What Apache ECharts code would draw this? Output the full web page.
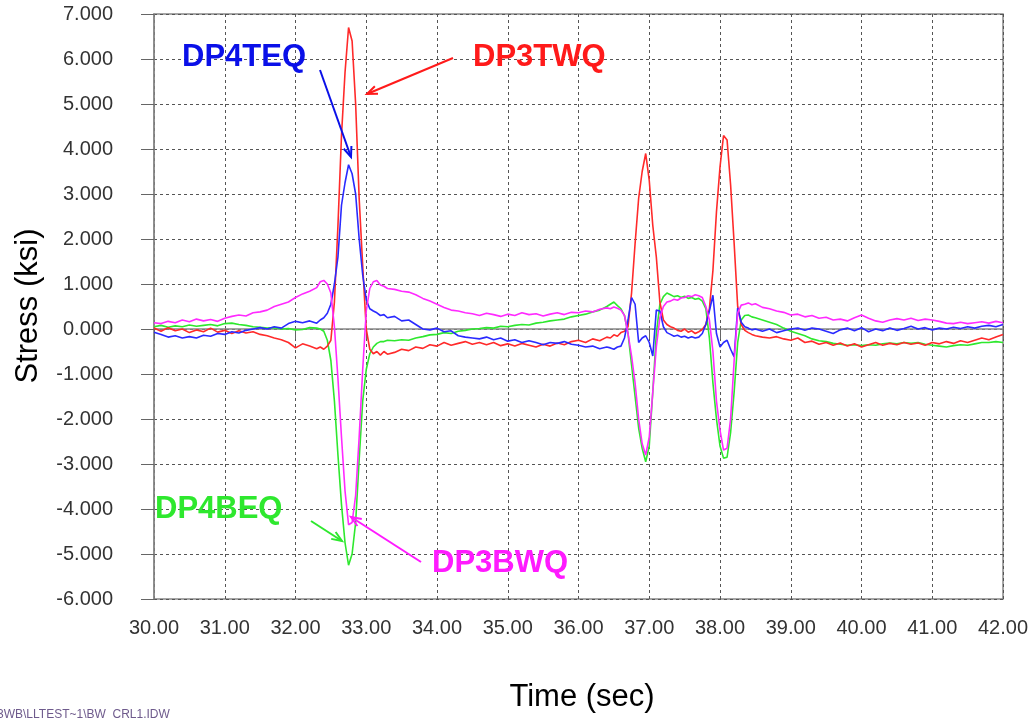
<!DOCTYPE html>
<html>
<head>
<meta charset="utf-8">
<script src="https://cdn.jsdelivr.net/npm/echarts@6.0.0/dist/echarts.min.js"></script>
<style>
html, body { margin: 0; padding: 0; background: #fff; }
#chart { width: 1034px; height: 719px; }
</style>
</head>
<body>
<div id="chart"></div>
<script>
// time stamps (sec) - finer step around the three load events
var times = [30.0,30.1,30.2,30.3,30.4,30.5,30.6,30.7,30.8,30.9,31.0,31.1,31.2,31.3,31.4,31.5,31.6,31.7,31.8,31.9,32.0,32.1,32.2,32.3,
	32.35,32.4,32.45,32.5,32.55,32.6,32.65,32.7,32.75,32.8,32.85,32.9,32.95,33.0,33.05,33.1,33.15,33.2,33.25,33.3,
	33.4,33.5,33.6,33.7,33.8,33.9,34.0,34.1,34.2,34.3,34.4,34.5,34.6,34.7,34.8,34.9,35.0,35.1,35.2,35.3,35.4,35.5,35.6,35.7,35.8,35.9,36.0,36.1,36.2,36.3,36.4,
	36.45,36.5,36.55,36.6,36.65,36.7,36.75,36.8,36.85,36.9,36.95,37.0,37.05,37.1,37.15,37.2,37.25,37.3,37.35,37.4,37.45,37.5,37.55,37.6,37.65,37.7,37.75,37.8,37.85,37.9,37.95,38.0,38.05,38.1,38.15,38.2,38.25,38.3,38.35,38.4,38.45,38.5,
	38.6,38.7,38.8,38.9,39.0,39.1,39.2,39.3,39.4,39.5,39.6,39.7,39.8,39.9,40.0,40.1,40.2,40.3,40.4,40.5,40.6,40.7,40.8,40.9,41.0,41.1,41.2,41.3,41.4,41.5,41.6,41.7,41.8,41.9,42.0];

// stress (ksi)
var dp3twq = [0.02,-0.05,0.03,-0.04,0.0,-0.08,-0.02,-0.06,0.02,-0.07,-0.03,-0.1,-0.04,-0.09,-0.06,-0.12,-0.15,-0.2,-0.24,-0.3,-0.42,-0.33,-0.38,-0.44,
	-0.4,-0.45,-0.38,-0.25,0.6,2.3,4.3,5.7,6.7,6.4,5.0,2.9,1.4,0.0,-0.45,-0.55,-0.5,-0.58,-0.5,-0.56,
	-0.52,-0.45,-0.48,-0.4,-0.43,-0.35,-0.38,-0.3,-0.36,-0.32,-0.28,-0.34,-0.3,-0.35,-0.3,-0.37,-0.33,-0.38,-0.32,-0.36,-0.4,-0.34,-0.38,-0.31,-0.35,-0.28,-0.25,-0.3,-0.22,-0.26,-0.18,
	-0.2,-0.13,-0.16,-0.08,-0.05,0.05,0.8,1.9,2.9,3.5,3.9,3.3,2.3,1.6,0.6,0.2,0.1,0.05,0.02,-0.03,-0.05,0.0,-0.07,-0.04,-0.1,-0.06,-0.01,0.1,0.45,1.3,2.6,3.6,4.3,4.2,3.2,1.9,0.5,0.1,-0.03,-0.08,-0.12,-0.15,
	-0.18,-0.2,-0.17,-0.22,-0.25,-0.2,-0.3,-0.27,-0.34,-0.3,-0.36,-0.31,-0.38,-0.33,-0.4,-0.35,-0.3,-0.36,-0.32,-0.35,-0.3,-0.34,-0.31,-0.36,-0.3,-0.33,-0.28,-0.32,-0.26,-0.3,-0.25,-0.2,-0.24,-0.18,-0.12];

var dp4teq = [-0.07,-0.12,-0.18,-0.15,-0.2,-0.17,-0.2,-0.14,-0.16,-0.1,-0.12,-0.06,-0.09,-0.03,0.0,0.03,0.0,0.05,0.02,0.12,0.17,0.14,0.18,0.13,
	0.2,0.25,0.35,0.55,1.0,1.6,2.75,3.25,3.65,3.45,3.0,2.0,1.2,0.65,0.45,0.4,0.36,0.3,0.32,0.25,
	0.28,0.18,0.2,0.1,0.0,-0.02,0.02,-0.06,-0.04,-0.15,-0.18,-0.2,-0.22,-0.18,-0.24,-0.2,-0.27,-0.24,-0.3,-0.26,-0.3,-0.35,-0.3,-0.32,-0.28,-0.34,-0.36,-0.4,-0.38,-0.44,-0.4,
	-0.42,-0.45,-0.4,-0.38,-0.2,0.2,0.7,0.55,-0.3,-0.2,-0.15,-0.3,-0.6,0.42,0.4,0.05,-0.08,-0.12,-0.16,-0.14,-0.18,-0.16,-0.2,-0.17,-0.2,-0.18,-0.1,0.1,0.4,0.75,-0.1,-0.4,-0.3,-0.25,-0.45,-0.62,0.47,0.15,0.05,0.02,-0.02,0.0,
	-0.05,0.0,-0.08,-0.04,0.0,0.02,-0.03,0.02,0.0,-0.05,-0.1,-0.02,0.02,-0.04,0.03,-0.06,0.0,-0.04,0.02,-0.03,0.01,0.06,0.0,0.03,-0.02,0.02,0.0,0.04,0.01,0.05,0.02,0.06,0.08,0.05,0.1];

var dp4beq = [0.05,0.08,0.04,0.07,0.05,0.09,0.06,0.08,0.1,0.07,0.12,0.13,0.1,0.08,0.05,0.04,0.02,0.03,0.0,0.01,-0.02,-0.01,0.03,0.02,
	0.0,-0.05,-0.25,-0.7,-1.6,-2.8,-3.9,-4.75,-5.25,-5.0,-4.3,-2.9,-1.6,-0.9,-0.55,-0.4,-0.32,-0.28,-0.28,-0.25,
	-0.26,-0.24,-0.25,-0.2,-0.17,-0.13,-0.12,-0.08,-0.1,-0.05,-0.03,0.0,0.01,0.03,0.02,0.06,0.05,0.08,0.1,0.09,0.13,0.15,0.18,0.2,0.22,0.27,0.3,0.33,0.38,0.42,0.5,
	0.55,0.6,0.52,0.45,0.3,-0.1,-0.8,-1.5,-2.2,-2.65,-2.95,-2.6,-1.4,-0.1,0.55,0.72,0.8,0.76,0.72,0.74,0.7,0.73,0.68,0.7,0.66,0.68,0.62,0.45,-0.2,-1.2,-2.0,-2.6,-2.87,-2.85,-2.3,-1.4,-0.3,0.2,0.3,0.31,0.27,0.25,
	0.2,0.15,0.1,0.02,-0.05,-0.1,-0.15,-0.22,-0.26,-0.28,-0.32,-0.34,-0.36,-0.35,-0.37,-0.35,-0.36,-0.33,-0.31,-0.33,-0.3,-0.32,-0.3,-0.34,-0.36,-0.38,-0.4,-0.37,-0.35,-0.36,-0.33,-0.3,-0.3,-0.28,-0.3];

var dp3bwq = [0.14,0.12,0.17,0.14,0.2,0.16,0.22,0.18,0.21,0.17,0.24,0.28,0.31,0.29,0.36,0.38,0.42,0.5,0.55,0.6,0.7,0.78,0.84,0.92,
	1.05,1.08,1.0,0.8,0.05,-1.1,-2.4,-3.6,-4.35,-4.3,-3.7,-2.4,-0.9,0.4,0.9,1.05,1.08,0.98,0.95,0.9,
	0.88,0.84,0.82,0.76,0.68,0.62,0.55,0.48,0.42,0.4,0.36,0.34,0.3,0.35,0.32,0.28,0.33,0.3,0.36,0.32,0.34,0.29,0.33,0.36,0.32,0.37,0.36,0.4,0.38,0.44,0.47,
	0.45,0.49,0.46,0.42,0.3,-0.1,-0.6,-1.2,-2.0,-2.55,-2.8,-2.4,-1.4,-0.4,0.25,0.5,0.6,0.62,0.66,0.64,0.69,0.7,0.74,0.72,0.76,0.74,0.7,0.5,0.2,-0.5,-1.6,-2.25,-2.69,-2.65,-2.0,-0.7,0.36,0.53,0.55,0.58,0.54,0.56,
	0.48,0.45,0.4,0.37,0.31,0.33,0.27,0.3,0.24,0.26,0.2,0.22,0.18,0.25,0.31,0.24,0.18,0.15,0.2,0.23,0.2,0.24,0.19,0.22,0.2,0.17,0.13,0.12,0.15,0.12,0.14,0.16,0.13,0.17,0.14];

var seriesNames = ['DP4BEQ', 'DP3TWQ', 'DP4TEQ', 'DP3BWQ'];
var seriesValues = [dp4beq, dp3twq, dp4teq, dp3bwq];
var seriesColors = ['#2ee82e', '#ff2a2a', '#2a2aff', '#ff2aff'];

var FONT = '"Liberation Sans", Arial, sans-serif';

function pairs(vals) {
	var out = [];
	for (var i = 0; i < times.length; i++) {
		out.push([times[i], vals[i]]);
	}
	return out;
}

// straight arrow with an open head
function arrow(x1, y1, x2, y2, color) {
	var a = Math.atan2(y2 - y1, x2 - x1);
	var L = 11, w = 0.38;
	var p1 = [x2 - L * Math.cos(a - w), y2 - L * Math.sin(a - w)];
	var p2 = [x2 - L * Math.cos(a + w), y2 - L * Math.sin(a + w)];
	return [
		{ type: 'line', z: 100, shape: { x1: x1, y1: y1, x2: x2, y2: y2 }, style: { stroke: color, lineWidth: 2 } },
		{ type: 'polyline', z: 100, shape: { points: [p1, [x2, y2], p2] }, style: { stroke: color, lineWidth: 2, fill: null } }
	];
}

function label(text, x, y, color) {
	return {
		type: 'text', z: 100, x: x, y: y,
		style: { text: text, fill: color, font: 'bold 31px ' + FONT, align: 'left', verticalAlign: 'middle' }
	};
}

var graphics = [
	{ type: 'text', x: 28, y: 306, rotation: Math.PI / 2,
		style: { text: 'Stress (ksi)', fill: '#000', font: '31px ' + FONT, align: 'center', verticalAlign: 'middle' } },
	{ type: 'text', x: 582, y: 697,
		style: { text: 'Time (sec)', fill: '#000', font: '31px ' + FONT, align: 'center', verticalAlign: 'middle' } },
	{ type: 'text', x: -3, y: 715,
		style: { text: '3WB\\LLTEST~1\\BW_CRL1.IDW', fill: '#6e5a8c', font: '12px ' + FONT, align: 'left', verticalAlign: 'middle' } },
	label('DP4TEQ', 182, 57, '#0a10e8'),
	label('DP3TWQ', 473, 57, '#ff1a1a'),
	label('DP4BEQ', 155, 509, '#2ee82e'),
	label('DP3BWQ', 432, 563, '#ff1aff')
].concat(
	arrow(320, 70, 351, 157, '#0a10e8'),
	arrow(453, 58, 367, 94, '#ff1a1a'),
	arrow(311, 521, 342, 541, '#2ee82e'),
	arrow(421, 562, 351, 517, '#ff1aff')
);

var series = [];
for (var s = 0; s < seriesNames.length; s++) {
	series.push({
		name: seriesNames[s],
		type: 'line',
		showSymbol: false,
		data: pairs(seriesValues[s]),
		lineStyle: { color: seriesColors[s], width: 1.6 },
		itemStyle: { color: seriesColors[s] },
		animation: false
	});
}

var chart = echarts.init(document.getElementById('chart'));
chart.setOption({
	backgroundColor: '#fff',
	animation: false,
	grid: { left: 154, right: 31, top: 14, bottom: 120, show: true, borderColor: '#888', borderWidth: 1.5 },
	xAxis: {
		type: 'value', min: 30, max: 42, interval: 1,
		axisLine: { lineStyle: { color: '#888', width: 1.5 } },
		axisTick: { length: 10, lineStyle: { color: '#666' } },
		axisLabel: { formatter: function (v) { return v.toFixed(2); }, color: '#333', fontSize: 20, fontFamily: FONT, margin: 19 },
		splitLine: { show: true, lineStyle: { color: '#555', type: [3, 3], width: 1 } }
	},
	yAxis: {
		type: 'value', min: -6, max: 7, interval: 1,
		axisLine: { show: true, lineStyle: { color: '#888', width: 1.5 } },
		axisTick: { show: true, length: 13, lineStyle: { color: '#666' } },
		axisLabel: { formatter: function (v) { return v.toFixed(3); }, color: '#333', fontSize: 20, fontFamily: FONT, margin: 41 },
		splitLine: { show: true, lineStyle: { color: '#555', type: [3, 3], width: 1 } }
	},
	series: series,
	graphic: graphics
});
</script>
</body>
</html>
